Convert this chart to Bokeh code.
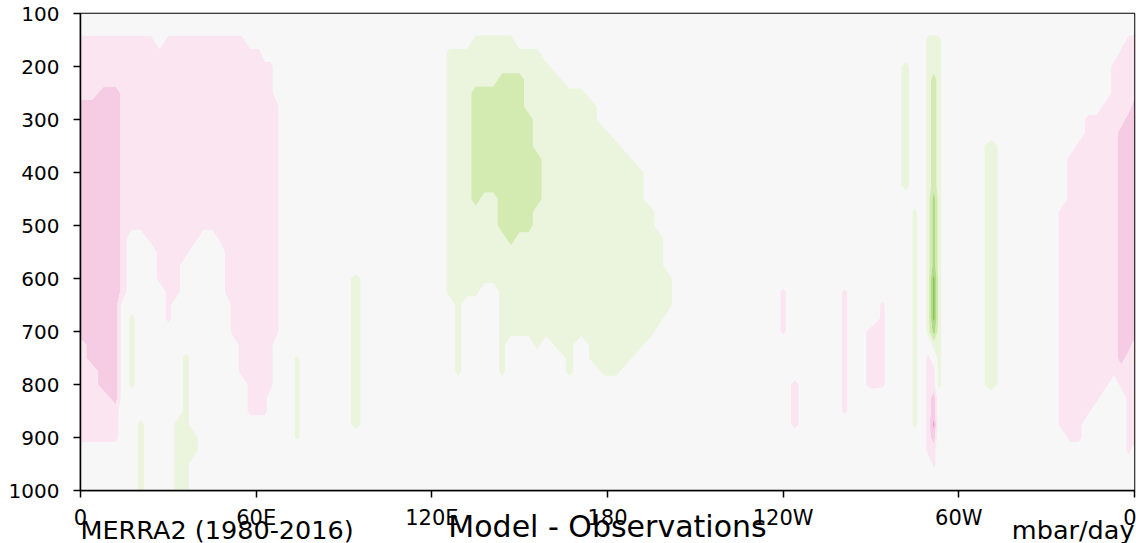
import numpy as np
from bokeh.plotting import figure
from bokeh.layouts import column
from bokeh.models import Range1d, FixedTicker, Label
from bokeh.embed import file_html
from bokeh.resources import INLINE

# ---- data (mbar/day, Model - Observations) ----
PRESSURE = np.arange(100, 1001, 25)           # mbar
LON_TICKS = [0, 60, 120, 180, 240, 300, 360]
LON_TICK_LABELS = ["0", "60E", "120E", "180", "120W", "60W", "0"]
P_TICKS = [100, 200, 300, 400, 500, 600, 700, 800, 900, 1000]

# contour levels and their fill colours
LEVELS = [-60, -30, -20, -10, 10, 20, 30, 40, 50, 80]
COLORS = ["#e9a3cf", "#f6cbe4", "#fae5f1", "#f7f7f7",
          "#ebf5dd", "#d3ebb0", "#b1db83", "#8dc35c", "#6aa83d"]

TITLE_LEFT = "MERRA2 (1980-2016)"
TITLE_CENTER = "Model - Observations"
TITLE_RIGHT = "mbar/day"

# longitude column -> list of (p_top, p_bottom, value) segments
COLUMNS = {
    0: [(150, 900, -15), (275, 710, -25)],
    4: [(150, 910, -15), (265, 760, -25)],
    8: [(145, 900, -15), (250, 800, -25)],
    12: [(145, 920, -15), (240, 830, -25)],
    15: [(145, 640, -15)],
    17.5: [(145, 500, -15), (675, 805, 15)],
    20.5: [(150, 510, -15), (860, 1000, 15)],
    24: [(150, 530, -15)],
    27: [(175, 600, -15)],
    30: [(150, 690, -15)],
    33: [(150, 640, -15), (870, 1000, 15)],
    36: [(150, 560, -15), (735, 1000, 15)],
    39: [(150, 530, -15), (880, 930, 15)],
    42: [(150, 510, -15)],
    45: [(150, 500, -15)],
    48: [(150, 540, -15)],
    50: [(150, 640, -15)],
    52: [(150, 700, -15)],
    55: [(150, 790, -15)],
    58: [(155, 860, -15)],
    61: [(165, 870, -15)],
    63: [(180, 870, -15)],
    65: [(200, 800, -15)],
    67: [(270, 700, -15)],
    69: [],
    74: [(735, 905, 12)],
    79: [],
    89: [],
    94: [(595, 885, 15)],
    99: [],
    123: [],
    126: [(170, 640, 15)],
    129: [(160, 775, 15)],
    132: [(155, 640, 15)],
    135: [(150, 630, 15), (250, 470, 25)],
    138: [(147, 620, 15), (240, 440, 25)],
    141: [(145, 600, 15), (235, 440, 25)],
    144: [(143, 775, 15), (225, 520, 25)],
    147: [(141, 700, 15), (215, 525, 25)],
    150: [(155, 700, 15), (220, 520, 25)],
    153: [(165, 700, 15), (280, 510, 25)],
    156: [(175, 735, 15), (370, 470, 25)],
    159: [(195, 715, 15)],
    163: [(225, 740, 15)],
    167: [(232, 790, 15)],
    171: [(240, 715, 15)],
    175: [(275, 760, 15)],
    179: [(310, 790, 15)],
    183: [(330, 780, 15)],
    187: [(370, 750, 15)],
    191: [(390, 725, 15)],
    195: [(470, 700, 15)],
    198: [(520, 680, 15)],
    201: [(600, 650, 15)],
    204: [],
    236: [],
    240: [(620, 700, -13)],
    244: [(790, 890, -15)],
    248: [],
    257: [],
    261: [(620, 870, -13)],
    265: [],
    270: [(690, 810, -15)],
    274: [(650, 800, -13)],
    277: [],
    282: [(200, 430, 15)],
    285: [(470, 890, 14)],
    287.5: [],
    289.5: [(150, 700, 15), (740, 940, -15)],
    291.5: [(145, 730, 15), (220, 715, 25), (450, 700, 35), (590, 680, 45),
            (760, 950, -15), (820, 910, -25), (860, 880, -35)],
    293.2: [(150, 800, 15)],
    295.5: [],
    306: [],
    311: [(330, 815, 18)],
    316: [],
    332: [],
    335: [(470, 880, -15)],
    338: [(360, 910, -15)],
    341: [(330, 920, -15)],
    344: [(300, 870, -15)],
    347: [(285, 840, -15)],
    350: [(260, 800, -15)],
    353: [(200, 780, -15)],
    355.5: [(165, 800, -15), (310, 760, -25)],
    358: [(150, 930, -15), (290, 740, -25)],
    360: [(150, 900, -15), (275, 710, -25)],
}

LON = np.array(sorted(COLUMNS.keys()), dtype=float)
Z = np.zeros((len(PRESSURE), len(LON)))
for j, lon in enumerate(sorted(COLUMNS.keys())):
    for top, bot, v in COLUMNS[lon]:
        Z[(PRESSURE >= top) & (PRESSURE <= bot), j] = v

FONT = "DejaVu Sans"

p = figure(width=1136, height=543, output_backend="svg", toolbar_location=None,
           x_range=Range1d(0, 360), y_range=Range1d(1000, 100),
           min_border_left=80, min_border_right=2, min_border_top=13,
           min_border_bottom=53)
p.background_fill_color = "#f7f7f7"
p.border_fill_color = "white"
p.xgrid.visible = False
p.ygrid.visible = False
p.outline_line_color = "black"
p.outline_line_width = 1.5
p.outline_line_alpha = 1.0

p.contour(x=LON, y=PRESSURE, z=Z, levels=LEVELS, fill_color=COLORS)

p.xaxis.ticker = FixedTicker(ticks=LON_TICKS)
p.xaxis.major_label_overrides = {t: s for t, s in zip(LON_TICKS, LON_TICK_LABELS)}
p.yaxis.ticker = FixedTicker(ticks=P_TICKS)
for ax in (p.xaxis[0], p.yaxis[0]):
    ax.axis_line_color = "black"
    ax.axis_line_width = 1.5
    ax.major_tick_line_color = "black"
    ax.major_tick_line_width = 1.5
    ax.major_tick_out = 7
    ax.major_tick_in = 0
    ax.minor_tick_line_color = None
    ax.major_label_text_font = FONT
    ax.major_label_text_color = "black"
p.xaxis.major_label_text_font_size = "21px"
p.yaxis.major_label_text_font_size = "20px"
p.xaxis.major_label_standoff = 8
p.yaxis.major_label_standoff = 14

# strip of titles overlapping the bottom of the chart
p2 = figure(width=1136, height=48, output_backend="svg", toolbar_location=None,
            x_range=Range1d(0, 1136), y_range=Range1d(0, 48),
            min_border=0, x_axis_type=None, y_axis_type=None)
p2.background_fill_color = None
p2.border_fill_color = None
p2.outline_line_color = None
p2.margin = (-48, 0, 0, 0)
for txt, x, y, align, size in [(TITLE_LEFT, 0, 14, "left", "25.5px"),
                               (TITLE_CENTER, 527, 17, "center", "30px"),
                               (TITLE_RIGHT, 1054, 14, "right", "25.5px")]:
    p2.add_layout(Label(x=x, y=y, x_units="screen", y_units="screen", text=txt,
                        text_align=align, text_baseline="alphabetic",
                        text_font=FONT, text_font_size=size, text_color="black"))

layout = column(p, p2, spacing=0)
open("out.html", "w").write(file_html(layout, INLINE))
